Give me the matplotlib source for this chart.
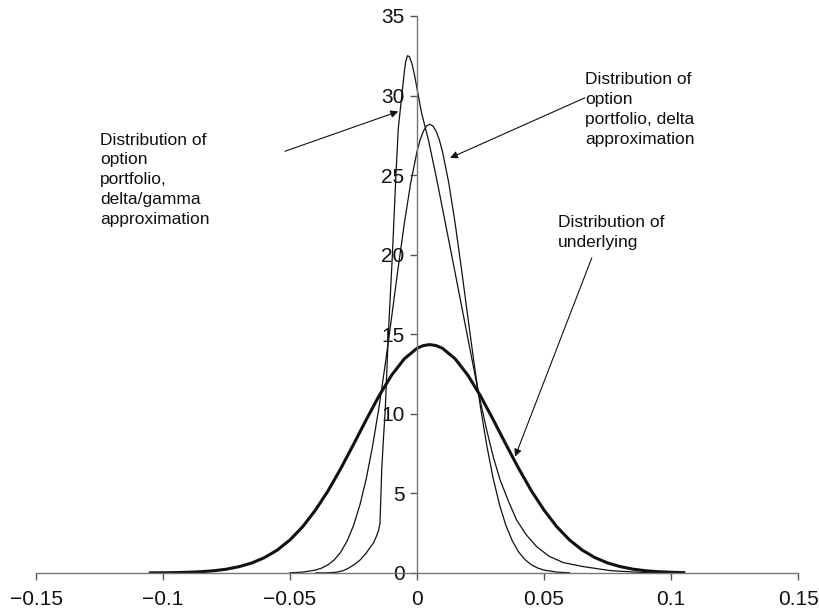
import matplotlib
matplotlib.use('Agg')
from matplotlib import pyplot as plt
import numpy as np

plt.rcParams['font.family'] = ['Liberation Sans', 'DejaVu Sans']

# distribution of underlying (thick curve)
und_x = [-0.105, -0.1, -0.095, -0.09, -0.085, -0.08, -0.075, -0.07, -0.065, -0.06,
         -0.055, -0.05, -0.045, -0.04, -0.035, -0.03, -0.025, -0.02, -0.015, -0.01,
         -0.005, 0.0, 0.0025, 0.005, 0.0075, 0.01, 0.015, 0.02, 0.025, 0.03, 0.035, 0.04,
         0.045, 0.05, 0.055, 0.06, 0.065, 0.07, 0.075, 0.08, 0.085, 0.09,
         0.095, 0.1, 0.105]
und_y = [0.006, 0.01, 0.024, 0.045, 0.08, 0.14, 0.24, 0.40, 0.63, 0.97,
         1.44, 2.08, 2.91, 3.95, 5.17, 6.57, 8.08, 9.63, 11.12, 12.43,
         13.46, 14.12, 14.29, 14.35, 14.29, 14.12, 13.46, 12.43, 11.12, 9.63, 8.08, 6.57,
         5.17, 3.95, 2.91, 2.08, 1.44, 0.97, 0.63, 0.40, 0.24, 0.14,
         0.08, 0.045, 0.02]

# option portfolio, delta approximation
dl_x = [-0.05, -0.045, -0.04, -0.0375, -0.035, -0.0325, -0.03, -0.0275, -0.025, -0.0225,
        -0.02, -0.0175, -0.015, -0.0125, -0.01, -0.0075, -0.005, -0.0025, 0.0, 0.00125,
        0.0025, 0.00375, 0.005, 0.00625, 0.0075, 0.00875, 0.01, 0.0125, 0.015, 0.0175,
        0.02, 0.0225, 0.025, 0.0275, 0.03, 0.0325, 0.035, 0.0375, 0.04, 0.0425,
        0.045, 0.0475, 0.05, 0.055, 0.06]
dl_y = [0.01, 0.055, 0.18, 0.31, 0.52, 0.84, 1.32, 2.02, 2.98, 4.27,
        5.92, 7.97, 10.39, 13.13, 16.08, 19.09, 21.97, 24.51, 26.49, 27.23,
        27.76, 28.09, 28.2, 28.09, 27.76, 27.23, 26.49, 24.51, 21.97, 19.09,
        16.08, 13.13, 10.39, 7.97, 5.92, 4.27, 2.98, 2.02, 1.32, 0.84,
        0.52, 0.31, 0.18, 0.055, 0.01]

# option portfolio, delta/gamma approximation
dg_x = [-0.040, -0.035, -0.0316, -0.029, -0.027, -0.0245, -0.0224, -0.020, -0.0185, -0.0172,
        -0.016, -0.0152, -0.0146, -0.0143, -0.0139, -0.0132, -0.0125, -0.0113, -0.0097, -0.0084,
        -0.0074, -0.006, -0.005, -0.0045, -0.0038, -0.003, -0.002, -0.001, 0.0005, 0.0018,
        0.0045, 0.0078, 0.0136, 0.0197, 0.0241, 0.0274, 0.0300, 0.0327, 0.036, 0.0392,
        0.043, 0.0471, 0.052, 0.0576, 0.0655, 0.076, 0.0865, 0.095]
dg_y = [0.0, 0.01, 0.05, 0.15, 0.3, 0.55, 0.82, 1.25, 1.6, 1.87,
        2.3, 2.65, 3.1, 4.5, 6.5, 8.5, 10.3, 15.0, 20.0, 24.7,
        27.9, 30.0, 31.5, 32.1, 32.5, 32.45, 32.0, 31.3, 30.0, 28.9,
        27.2, 24.7, 20.0, 15.0, 11.4, 9.0, 7.3, 5.85, 4.5, 3.33,
        2.4, 1.65, 1.05, 0.65, 0.4, 0.15, 0.05, 0.0]

labels = ['Distribution of\noption\nportfolio,\ndelta/gamma\napproximation',
          'Distribution of\noption\nportfolio, delta\napproximation',
          'Distribution of\nunderlying']

fig = plt.figure(figsize=(8.19, 6.10), dpi=100)
ax = fig.add_axes([0.044, 0.0607, 0.9304, 0.9131])

ax.plot(und_x, und_y, color='#111111', lw=2.2, solid_joinstyle='round')
ax.plot(dl_x, dl_y, color='#111111', lw=0.9, solid_joinstyle='round')
ax.plot(dg_x, dg_y, color='#111111', lw=0.9, solid_joinstyle='round')

ax.set_xlim(-0.15, 0.15)
ax.set_ylim(0, 35)
ax.set_xticks([-0.15, -0.1, -0.05, 0, 0.05, 0.1, 0.15])
ax.set_xticklabels(['\u22120.15', '\u22120.1', '\u22120.05', '0', '0.05', '0.1', '0.15'])
ax.set_yticks(range(0, 36, 5))

ax.spines['top'].set_visible(False)
ax.spines['right'].set_visible(False)
ax.spines['left'].set_position(('data', 0))
for s in ['left', 'bottom']:
    ax.spines[s].set_color('#777777')
    ax.spines[s].set_linewidth(1.0)
ax.tick_params(axis='both', direction='out', length=5, width=1.0, color='#555555',
               labelsize=15, labelcolor='#111111')
ax.tick_params(axis='x', pad=7)
ax.tick_params(axis='y', pad=4)

# labels and arrows
ax.text(-0.1248, 27.67, labels[0], ha='left', va='top', fontsize=12.5,
        color='#111111', linespacing=1.4)
ax.text(0.0661, 31.45, labels[1], ha='left', va='top', fontsize=12.5,
        color='#111111', linespacing=1.4)
ax.text(0.0555, 22.5, labels[2], ha='left', va='top', fontsize=12.5,
        color='#111111', linespacing=1.4)

arr = dict(arrowstyle='-|>', color='#111111', lw=0.8, shrinkA=0, shrinkB=0, mutation_scale=11)
ax.annotate('', xy=(-0.0074, 29.0), xytext=(-0.052, 26.5), arrowprops=arr)
ax.annotate('', xy=(0.013, 26.08), xytext=(0.0661, 29.86), arrowprops=arr)
ax.annotate('', xy=(0.0386, 7.31), xytext=(0.0688, 19.8), arrowprops=arr)

plt.savefig('out.png', dpi=100)
